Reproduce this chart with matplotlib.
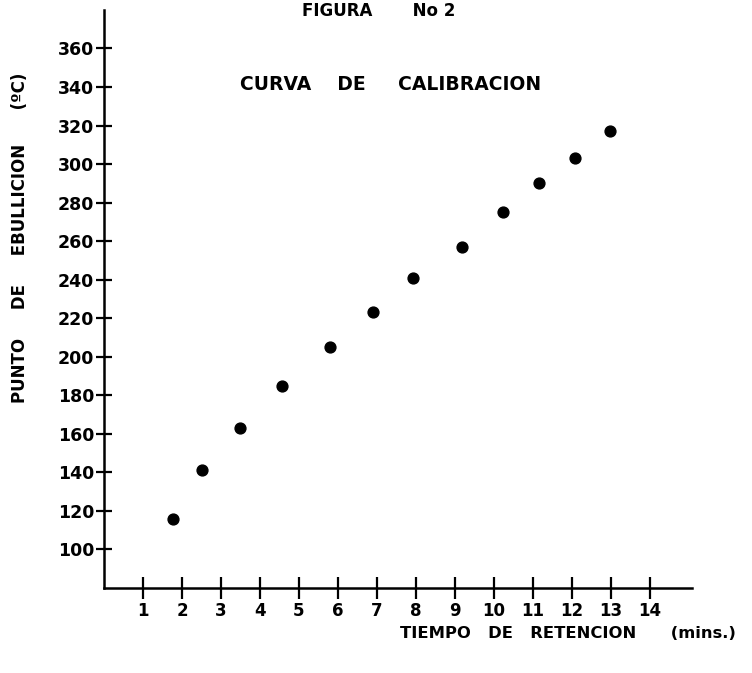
import numpy as np
import matplotlib
matplotlib.use('Agg')
import matplotlib.pyplot as plt

# Curva de calibracion: tiempo de retencion (min) vs punto de ebullicion (C)
tiempo = [1.77, 2.51, 3.49, 4.56, 5.79, 6.90, 7.92, 9.18, 10.23, 11.15, 12.08, 12.97]
ebullicion = [116, 141, 163, 185, 205, 223, 241, 257, 275, 290, 303, 317]

x_ticks = list(range(1, 15))
y_ticks = list(range(100, 361, 20))

plt.rcParams['font.family'] = ['DejaVu Sans']
plt.rcParams['font.weight'] = 'bold'

fig = plt.figure(figsize=(7.52, 6.73), dpi=100)
ax = fig.add_axes([0.1383, 0.1263, 0.7817, 0.859])

ax.plot(tiempo, ebullicion, 'o', color='black', markersize=7.8, linestyle='none')

ax.set_xlim(0, 15.08)
ax.set_ylim(80, 380)
ax.set_xticks(x_ticks)
ax.set_yticks(y_ticks)
ax.set_xticklabels([str(v) for v in x_ticks], fontsize=12, fontweight='bold')
ax.set_yticklabels([str(v) for v in y_ticks], fontsize=12.5, fontweight='bold')

ax.spines['top'].set_visible(False)
ax.spines['right'].set_visible(False)
for s in ('left', 'bottom'):
    ax.spines[s].set_linewidth(1.8)
ax.tick_params(axis='y', direction='inout', length=12, width=1.6, pad=1)
ax.tick_params(axis='x', direction='inout', length=16, width=1.6, pad=2)

fig.text(0.504, 1 - 2 / 673, 'FIGURA       No 2', fontsize=12, fontweight='bold',
         ha='center', va='top')
fig.text(0.519, 1 - 84 / 673, 'CURVA    DE     CALIBRACION',
         fontsize=13.5, fontweight='bold', ha='center', va='center')
fig.text(0.027, 1 - 238 / 673, 'PUNTO     DE     EBULLICION      (ºC)', rotation=90,
         fontsize=12, fontweight='bold', ha='center', va='center')
fig.text(0.755, 1 - 634 / 673, 'TIEMPO   DE   RETENCION      (mins.)',
         fontsize=11.8, fontweight='bold', ha='center', va='center')

fig.savefig('out.png', dpi=100)
